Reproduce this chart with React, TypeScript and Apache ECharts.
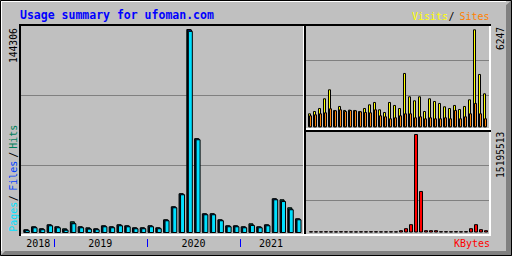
import React, { useEffect, useRef } from "react";
import * as echarts from "echarts";

const months = [
  "2018-09", "2018-10", "2018-11", "2018-12",
  "2019-01", "2019-02", "2019-03", "2019-04", "2019-05", "2019-06",
  "2019-07", "2019-08", "2019-09", "2019-10", "2019-11", "2019-12",
  "2020-01", "2020-02", "2020-03", "2020-04", "2020-05", "2020-06",
  "2020-07", "2020-08", "2020-09", "2020-10", "2020-11", "2020-12",
  "2021-01", "2021-02", "2021-03", "2021-04", "2021-05", "2021-06",
  "2021-07", "2021-08",
];
const yearLabels = ["2018", "2019", "2020", "2021"];

const hits = [2620, 4750, 3330, 6160, 4750, 3330, 8290, 4750, 4040, 3330, 5450, 4750,
  6160, 5450, 4040, 4040, 5450, 4040, 9700, 18910, 28120, 144306, 67090, 13960,
  13960, 9700, 5450, 5450, 4750, 6870, 4750, 6160, 24580, 23870, 18210, 10410];
const files = [2500, 4550, 3150, 5950, 4550, 2600, 7300, 4550, 3400, 3150, 5250, 4550,
  5950, 5250, 3850, 3850, 5250, 3850, 9500, 18700, 27900, 143900, 66800, 13750,
  13750, 9500, 5250, 5250, 4550, 6000, 4550, 5950, 24350, 23000, 17300, 10200];
const pages = [2000, 4050, 2650, 5450, 4050, 2300, 6900, 4050, 3100, 2650, 4750, 4050,
  5450, 4750, 3350, 3350, 4750, 3350, 9000, 18200, 27400, 143000, 66300, 13250,
  13250, 9000, 4750, 4750, 4050, 5700, 4050, 5450, 23850, 22600, 16800, 9700];

const visits = [892, 1041, 1232, 1849, 2422, 1105, 1360, 1105, 1126, 1105, 1041, 1232,
  1466, 1615, 1147, 977, 1615, 1424, 1232, 3464, 1976, 1721, 1976, 1041,
  1849, 1679, 1551, 1339, 1232, 1424, 1169, 1360, 1785, 6247, 3400, 2167];
const sites = [765, 829, 892, 956, 1211, 1084, 1147, 1041, 1105, 1084, 1020, 977,
  956, 1147, 765, 701, 574, 637, 765, 892, 892, 637, 701, 574,
  637, 574, 574, 637, 574, 1105, 574, 701, 892, 1551, 892, 574];

const kbytes = [190000, 185000, 180000, 195000, 185000, 180000, 200000, 185000, 180000,
  175000, 190000, 185000, 195000, 190000, 180000, 180000, 190000, 180000,
  357000, 667000, 1287000, 15195513, 6409000, 357000, 357000, 357000, 200000,
  200000, 190000, 205000, 190000, 200000, 667000, 1287000, 512000, 357000];

const hitsMax = Math.max(...hits);
const visitsMax = Math.max(...visits);
const kbytesMax = Math.max(...kbytes);

const MAIN = { left: 22.65, top: 29, width: 279.5, height: 204 };
const VS = { left: 307.5, top: 29.3, width: 180, height: 98 };
const KB = { left: 308.5, top: 134, width: 180, height: 98.5 };

const FONT = '"DejaVu Sans Mono", monospace';

const C = {
  bg: "#c0c0c0",
  dark: "#808080",
  hits: "#00805c",
  files: "#0040ff",
  pages: "#00e0ff",
  visits: "#ffff00",
  sites: "#ff8000",
  kbytes: "#ff0000",
  title: "#0000ff",
};

const bar = (data: number[], color: string, axis: number, width: number, gap: string) => ({
  type: "bar",
  data,
  xAxisIndex: axis,
  yAxisIndex: axis,
  barWidth: width,
  barGap: gap,
  silent: true,
  itemStyle: { color, borderColor: "#000", borderWidth: 1 },
});

const splitAxis = (i: number) => ({
  type: "value",
  gridIndex: i,
  min: 0,
  max: 1,
  interval: 1,
  axisLine: { show: false },
  axisTick: { show: false },
  axisLabel: { show: false },
  splitLine: { show: true, lineStyle: { color: C.dark, width: 1 } },
});

const rect = (x: number, y: number, w: number, h: number, fill: string) => ({
  type: "rect",
  shape: { x, y, width: w, height: h },
  style: { fill },
  silent: true,
  z: 10,
});

const txt = (
  text: string, x: number, y: number, fill: string,
  opts: { size?: number; bold?: boolean; align?: string; rot?: number } = {}
) => ({
  type: "text",
  x,
  y,
  rotation: opts.rot || 0,
  silent: true,
  z: 11,
  style: {
    text,
    fill,
    font: `${opts.bold ? "bold " : ""}${opts.size || 10}px ${FONT}`,
    align: opts.align || "center",
    verticalAlign: "middle",
  },
});

function buildGraphics() {
  const g: any[] = [];
  g.push({
    type: "polygon",
    shape: { points: [[512, 0], [512, 256], [0, 256], [5, 251], [506, 251], [506, 5]] },
    style: { fill: C.dark },
    silent: true,
    z: 9,
  });
  g.push(rect(1, 1, 505, 1, "#ffffff"));
  g.push(rect(1, 1, 1, 250, "#ffffff"));
  g.push({
    type: "rect",
    shape: { x: 0.5, y: 0.5, width: 511, height: 255 },
    style: { fill: "none", stroke: "#000", lineWidth: 1 },
    silent: true,
    z: 10,
  });
  g.push(rect(19, 234, 472, 2, "#ffffff"));
  g.push(rect(303, 24, 1, 212, "#ffffff"));
  g.push(rect(489, 24, 2, 212, "#ffffff"));
  g.push(rect(304, 128, 187, 2, "#ffffff"));
  g.push(rect(19, 24, 472, 2, "#000000"));
  g.push(rect(19, 24, 2, 212, "#000000"));
  g.push(rect(304, 24, 2, 210, "#000000"));
  g.push(rect(304, 130, 187, 2, "#000000"));

  g.push(txt("Usage summary for ufoman.com", 20, 15, C.title, { size: 11.5, bold: true, align: "left" }));
  g.push(txt("Visits", 430, 16.5, C.visits));
  g.push(txt("/", 451.5, 16.5, "#000"));
  g.push(txt("Sites", 474.5, 16.5, C.sites));
  g.push(txt("KBytes", 472, 243.3, C.kbytes));

  const up = Math.PI / 2;
  g.push(txt("Pages", 13.5, 216.8, C.pages, { rot: up }));
  g.push(txt("/", 13.5, 198.2, "#000", { rot: up }));
  g.push(txt("Files", 13.5, 175.8, C.files, { rot: up }));
  g.push(txt("/", 13.5, 154.7, "#000", { rot: up }));
  g.push(txt("Hits", 13.5, 136.7, C.hits, { rot: up }));

  g.push(txt(String(hitsMax), 13.5, 28.3, "#000", { rot: up, align: "right", size: 9.6 }));
  g.push(txt(String(visitsMax), 500, 27, "#000", { rot: up, align: "right", size: 9.6 }));
  g.push(txt(String(kbytesMax), 500, 131.7, "#000", { rot: up, align: "right", size: 9.6 }));

  const band = MAIN.width / months.length;
  let start = 0;
  yearLabels.forEach((yr, k) => {
    const count = months.filter((m) => m.startsWith(yr)).length;
    const cx = MAIN.left + band * (start + count / 2);
    g.push(txt(yr, cx, 243, "#000"));
    if (k < yearLabels.length - 1) {
      const sx = Math.round(MAIN.left + band * (start + count));
      g.push(rect(sx, 239, 1, 8, C.title));
    }
    start += count;
  });
  return g;
}

export default function App() {
  const ref = useRef<HTMLDivElement>(null);
  useEffect(() => {
    if (!ref.current) return;
    const chart = echarts.init(ref.current, undefined, { renderer: "svg" });
    chart.setOption({
      animation: false,
      backgroundColor: C.bg,
      grid: [
        { ...MAIN },
        { left: 21, top: 95.5, width: 282, height: 70 },
        { ...VS },
        { left: 306, top: 60.5, width: 183, height: 35 },
        { ...KB },
        { left: 306, top: 165.5, width: 183, height: 35 },
      ],
      xAxis: [
        { type: "category", gridIndex: 0, data: months, show: false },
        { type: "value", gridIndex: 1, min: 0, max: 1, show: false },
        { type: "category", gridIndex: 2, data: months, show: false },
        { type: "value", gridIndex: 3, min: 0, max: 1, show: false },
        { type: "category", gridIndex: 4, data: months, show: false },
        { type: "value", gridIndex: 5, min: 0, max: 1, show: false },
      ],
      yAxis: [
        { type: "value", gridIndex: 0, min: 0, max: hitsMax, show: false },
        splitAxis(1),
        { type: "value", gridIndex: 2, min: 0, max: visitsMax, show: false },
        splitAxis(3),
        { type: "value", gridIndex: 4, min: 0, max: kbytesMax, show: false },
        splitAxis(5),
      ],
      series: [
        bar(hits, C.hits, 0, 5, "-85%"),
        bar(files, C.files, 0, 5, "-85%"),
        bar(pages, C.pages, 0, 5, "-85%"),
        bar(visits, C.visits, 2, 3, "-66.67%"),
        bar(sites, C.sites, 2, 3, "-66.67%"),
        bar(kbytes, C.kbytes, 4, 4, "30%"),
      ],
      graphic: buildGraphics(),
    });
    return () => chart.dispose();
  }, []);
  return (
    <div
      ref={ref}
      style={{ position: "fixed", left: 0, top: 0, width: 512, height: 256 }}
    />
  );
}
